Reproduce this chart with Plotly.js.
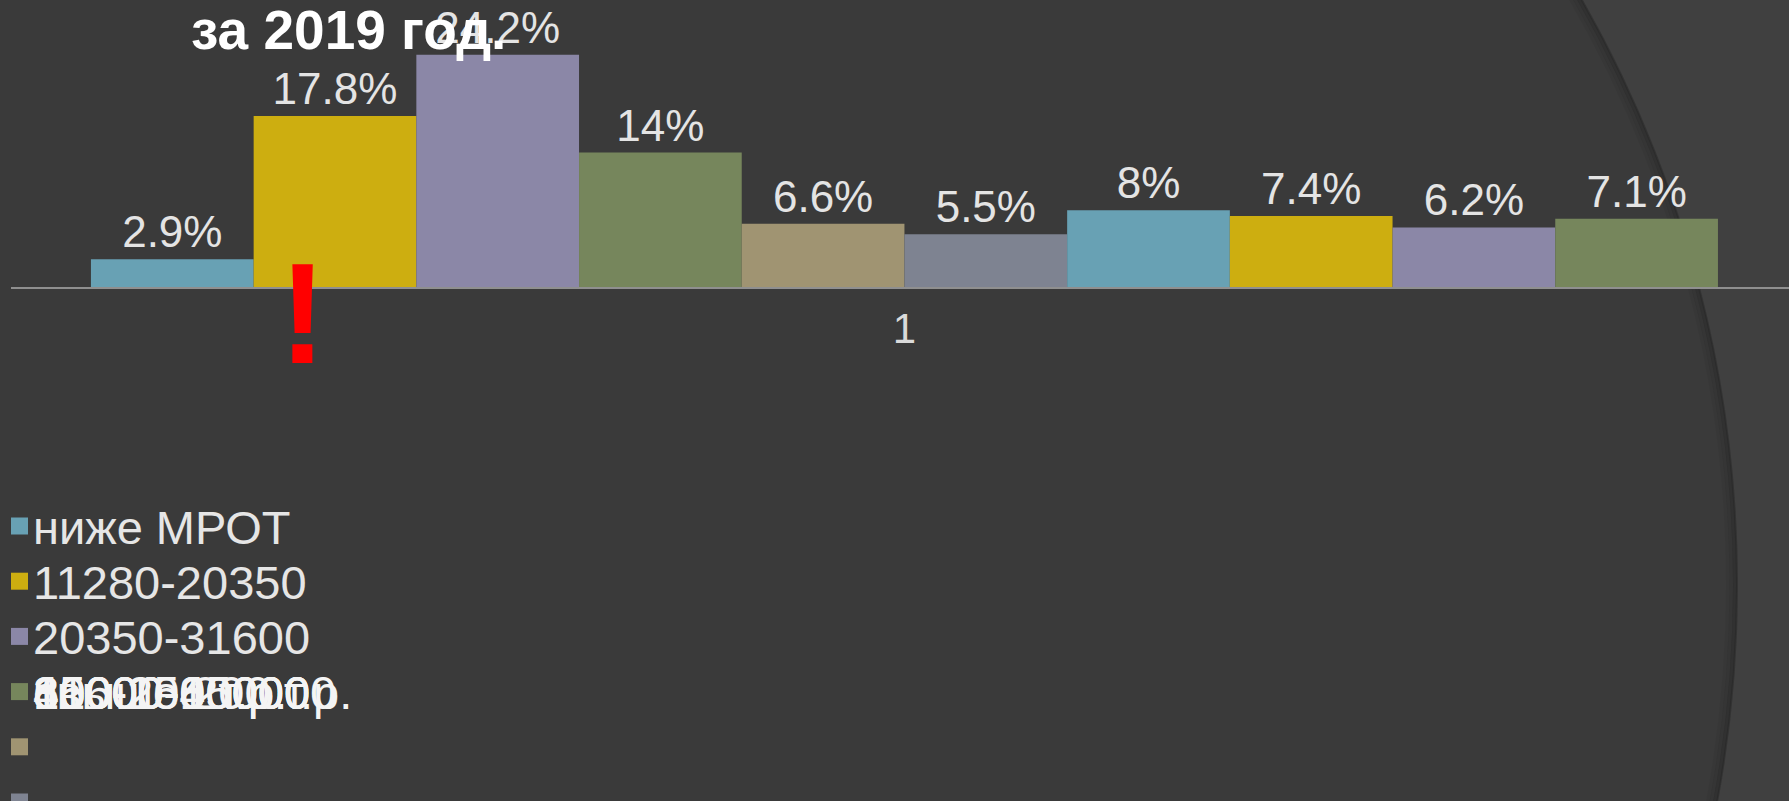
<!DOCTYPE html>
<html>
<head>
<meta charset="utf-8">
<script src="https://cdn.plot.ly/plotly-3.0.1.min.js"></script>
<style>
  html, body { margin: 0; padding: 0; background: #404040; }
  #chart { width: 1789px; height: 801px; }
</style>
</head>
<body>
<div id="chart"></div>
<script>
// ---- data ----
const categories = ['1'];
const seriesNames = [
  'ниже МРОТ',
  '11280-20350',
  '20350-31600',
  '31600-45000',
  '45000-60000',
  '60000-80000',
  '80000-100000',
  '100-150 т.р.',
  '150-200 т.р.',
  'свыше 200 т.р.'
];
const seriesValues = [2.9, 17.8, 24.2, 14, 6.6, 5.5, 8, 7.4, 6.2, 7.1];
const titleText = 'за 2019 год.';
const markText = '!';

// ---- style ----
const palette = ['#68A1B4', '#CDAE10', '#8B87A7', '#76865C', '#A09472', '#7E8391'];
const W = 1789, H = 801;
const mL = 11, mR = 0, mT = 0, mB = 514;
const plotW = W - mL - mR, plotH = H - mT - mB;
const pxPerUnit = 9.6;
const font = 'Liberation Sans, Arial, sans-serif';

function px2x(px) { return (px - mL) / plotW; }
function py2y(py) { return (mT + plotH - py) / plotH; }

const traces = seriesValues.map((v, i) => ({
  type: 'bar',
  x: categories,
  y: [v],
  name: seriesNames[i],
  marker: { color: palette[i % palette.length], line: { width: 0 } },
  texttemplate: '%{y}%',
  textposition: 'outside',
  textfont: { family: font, size: 44, color: '#e4e4e4' },
  cliponaxis: false,
  showlegend: false,
  hoverinfo: 'skip'
}));

// background arc (slide decoration) with a soft inner shadow
const cx = 557, cy = 585, R = 1181;
function circ(r, extra) {
  return Object.assign({
    type: 'circle', xref: 'paper', yref: 'paper', layer: 'below',
    x0: px2x(cx - r), x1: px2x(cx + r), y0: py2y(cy + r), y1: py2y(cy - r)
  }, extra);
}
const shapes = [
  circ(R, { fillcolor: '#3a3a3a', line: { width: 0 } }),
  circ(R - 10, { fillcolor: 'rgba(0,0,0,0)', line: { color: 'rgba(0,0,0,0.04)', width: 4 } }),
  circ(R - 6.5, { fillcolor: 'rgba(0,0,0,0)', line: { color: 'rgba(0,0,0,0.08)', width: 4 } }),
  circ(R - 3, { fillcolor: 'rgba(0,0,0,0)', line: { color: 'rgba(0,0,0,0.14)', width: 4 } }),
  circ(R - 1, { fillcolor: 'rgba(0,0,0,0)', line: { color: 'rgba(0,0,0,0.12)', width: 2 } })
];

const annotations = [
  { xref: 'paper', yref: 'paper', x: px2x(189), y: py2y(29.5), xanchor: 'left', yanchor: 'middle',
    text: '<b>' + titleText + '</b>', showarrow: false,
    font: { family: font, size: 55, color: '#ffffff' } },
  { xref: 'paper', yref: 'paper', x: px2x(302), y: py2y(313), xanchor: 'center', yanchor: 'middle',
    text: '<b>' + markText + '</b>', showarrow: false,
    font: { family: font, size: 142, color: '#ff0000' } }
];

// legend (rendered as in the source slide: entries 4+ collapse onto row 4)
const rowTop = 526, rowStep = 55.2, mk = 17;
seriesNames.forEach((name, i) => {
  const rowMark = rowTop + rowStep * i;
  const rowText = rowTop + rowStep * Math.min(i, 3);
  shapes.push({
    type: 'rect', xref: 'paper', yref: 'paper',
    x0: px2x(11), x1: px2x(11 + mk), y0: py2y(rowMark + mk / 2), y1: py2y(rowMark - mk / 2),
    fillcolor: palette[i % palette.length], line: { width: 0 }
  });
  annotations.push({
    xref: 'paper', yref: 'paper', x: px2x(31), y: py2y(rowText + 1), xanchor: 'left', yanchor: 'middle',
    text: name, showarrow: false,
    font: { family: font, size: 47, color: i >= 3 ? '#f4f4f4' : '#e6e6e6' }
  });
});

const layout = {
  width: W, height: H,
  margin: { l: mL, r: mR, t: mT, b: mB, pad: 0 },
  paper_bgcolor: '#404040',
  plot_bgcolor: 'rgba(0,0,0,0)',
  barmode: 'group',
  bargap: 1 - 1627 / plotW,
  bargroupgap: 0,
  showlegend: false,
  xaxis: {
    type: 'category', range: [-0.5025, 0.4975],
    showline: true, linecolor: '#8f8f8f', linewidth: 2,
    showgrid: false, zeroline: false, ticks: '',
    ticklabelstandoff: 4,
    tickfont: { family: font, size: 42, color: '#dadada' }
  },
  yaxis: {
    range: [0, plotH / pxPerUnit], visible: false, showgrid: false, zeroline: false
  },
  shapes: shapes,
  annotations: annotations
};

Plotly.newPlot('chart', traces, layout, { staticPlot: true, displayModeBar: false });
</script>
</body>
</html>
